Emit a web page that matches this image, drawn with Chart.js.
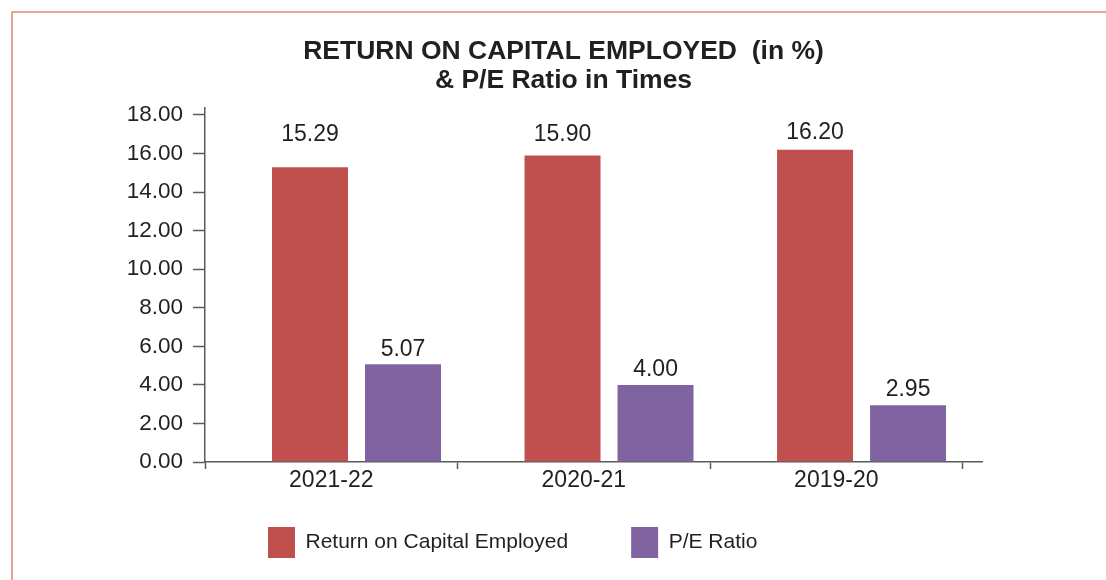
<!DOCTYPE html>
<html lang="en">
<head>
<meta charset="UTF-8">
<title>Return on Capital Employed & P/E Ratio</title>
<script src="https://cdn.jsdelivr.net/npm/chart.js@4.4.1/dist/chart.umd.min.js"></script>
<style>
  html, body { margin: 0; padding: 0; background: #fff; }
  #wrap { position: relative; width: 1106px; height: 580px; overflow: hidden; }
  #frame {
    position: absolute; left: 11px; top: 11px; width: 1200px; height: 700px;
    border-left: 2px solid #e8a39b; border-top: 2px solid #e8a39b;
    pointer-events: none;
  }
</style>
</head>
<body>
<div id="wrap">
  <canvas id="chart" width="1106" height="580"></canvas>
  <div id="frame"></div>
</div>
<script>
// data
const categories = ['2021-22', '2020-21', '2019-20'];
const roce = [15.29, 15.90, 16.20];
const peRatio = [5.07, 4.00, 2.95];
const seriesNames = ['Return on Capital Employed', 'P/E Ratio'];

const TEXT = '#231f20';
const AXIS = '#5a5a5a';
const BAR_SHIFT = 0.1;   // bars sit a bit right of the category centre
const Y_TOP = 18.36;     // axis line runs a little past the 18.00 tick
const X_END = 3.077;     // axis line runs a little past the last category

Chart.defaults.font.family = '"Liberation Sans", Arial, sans-serif';
Chart.defaults.color = TEXT;

// value labels above the bars; the tall ROCE bars have theirs in a band near the top
const valueLabels = {
    id: 'valueLabels',
    afterDatasetsDraw(chart) {
        const ctx = chart.ctx;
        const band = chart.scales.y.getPixelForValue(17);
        ctx.save();
        ctx.font = '23px "Liberation Sans", Arial, sans-serif';
        ctx.fillStyle = TEXT;
        ctx.textAlign = 'center';
        ctx.textBaseline = 'middle';
        chart.data.datasets.forEach((ds, i) => {
            chart.getDatasetMeta(i).data.forEach((bar, j) => {
                const ty = i === 0 ? Math.min(bar.y - 17, band) : bar.y - 15;
                ctx.fillText(ds.data[j].y.toFixed(2), bar.x, ty);
            });
        });
        ctx.restore();
    }
};

const toPoints = values => values.map((v, i) => ({ x: i + 0.5 + BAR_SHIFT, y: v }));
const isBoundary = c => !c.tick || Number.isInteger(c.tick.value);

new Chart(document.getElementById('chart'), {
    type: 'bar',
    data: {
        datasets: [
            { label: seriesNames[0], data: toPoints(roce), backgroundColor: '#c0504d', borderWidth: 0 },
            { label: seriesNames[1], data: toPoints(peRatio), backgroundColor: '#8064a2', borderWidth: 0 }
        ]
    },
    options: {
        responsive: false,
        animation: false,
        devicePixelRatio: 1,
        categoryPercentage: 1.4733,
        barPercentage: 0.817,
        layout: { padding: { top: 0, left: 120, right: 99, bottom: 12 } },
        plugins: {
            tooltip: { enabled: false },
            title: {
                display: true,
                text: ['RETURN ON CAPITAL EMPLOYED  (in %)', '& P/E Ratio in Times'],
                color: TEXT,
                font: { size: 26.5, weight: 'bold', lineHeight: 1.08 },
                padding: { top: 37.5, bottom: 13.3 }
            },
            legend: {
                position: 'bottom',
                fullSize: false,
                align: 'start',
                labels: {
                    boxWidth: 27,
                    boxHeight: 31,
                    padding: 63,
                    color: TEXT,
                    font: { size: 21 }
                }
            }
        },
        scales: {
            x: {
                type: 'linear',
                min: 0,
                max: X_END,
                offset: false,
                afterBuildTicks: s => {
                    const t = [];
                    categories.forEach((c, i) => { t.push({ value: i }, { value: i + 0.5 }); });
                    t.push({ value: categories.length });
                    s.ticks = t;
                },
                // the legend sits close under the axis, so the axis box is kept thin
                // and the labels are drawn unclipped (mirror) below it
                afterFit: s => { s.height = 2; },
                ticks: {
                    autoSkip: false,
                    maxRotation: 0,
                    minRotation: 0,
                    mirror: true,
                    padding: -30.5,
                    color: TEXT,
                    font: { size: 23, lineHeight: 1 },
                    callback: v => Number.isInteger(v) ? '' : categories[Math.floor(v)]
                },
                grid: {
                    offset: false,
                    drawOnChartArea: false,
                    tickLength: 7,
                    tickWidth: 1.5,
                    tickColor: c => isBoundary(c) ? AXIS : 'rgba(0,0,0,0)'
                },
                border: { color: AXIS, width: 1.5 }
            },
            y: {
                min: 0,
                max: Y_TOP,
                afterFit: s => { s.width = 85; },
                ticks: {
                    stepSize: 2,
                    includeBounds: false,
                    padding: 10,
                    color: TEXT,
                    font: { size: 22.5 },
                    callback: v => v.toFixed(2)
                },
                grid: { drawOnChartArea: false, tickLength: 12, tickWidth: 1.5, tickColor: AXIS },
                border: { color: AXIS, width: 1.5 }
            },
            yr: {
                position: 'right',
                afterFit: s => { s.width = 25; },
                ticks: { display: false },
                grid: { display: false },
                border: { display: false }
            }
        }
    },
    plugins: [valueLabels]
});
</script>
</body>
</html>
